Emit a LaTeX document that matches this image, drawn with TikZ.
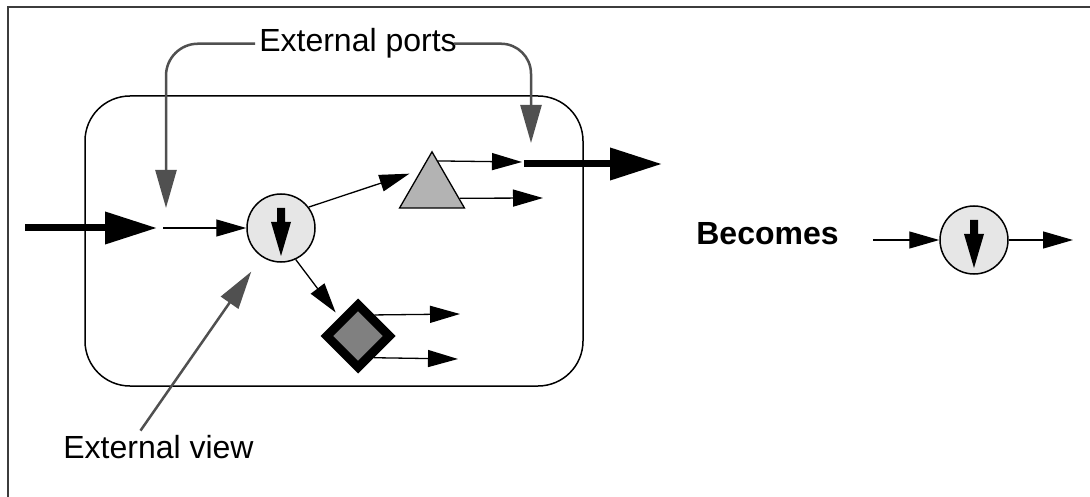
\documentclass[tikz,border=0pt]{standalone}
\usepackage{fontspec}
\setmainfont{Liberation Sans}
\usetikzlibrary{arrows.meta,shapes.geometric}
\definecolor{valvefill}{RGB}{230,230,230}
\definecolor{trifill}{RGB}{179,179,179}
\definecolor{diafill}{RGB}{128,128,128}
\definecolor{calloutcol}{RGB}{80,80,80}
\definecolor{framecol}{RGB}{60,60,60}

\begin{document}
\begin{tikzpicture}[
  x=1pt, y=-1pt,
  font=\fontsize{32}{38}\selectfont,
  frame/.style={draw=framecol, line width=2pt},
  block/.style={
    draw, line width=1.5pt, rounded corners=45pt,
    minimum width=498pt, minimum height=290pt, inner sep=0pt
  },
  valve/.style={
    circle, draw, line width=1.5pt, fill=valvefill,
    minimum size=68pt, inner sep=0pt,
    path picture={
      \fill[black] (path picture bounding box.center) ++(-4,-20) -- ++(8,0)
        -- ++(0,14) -- ++(6,0) -- ++(-10,34) -- ++(-10,-34) -- ++(6,0) -- cycle;
    }
  },
  tri/.style={
    regular polygon, regular polygon sides=3, draw, line width=1.3pt,
    fill=trifill, minimum size=75pt, inner sep=0pt
  },
  dia/.style={
    diamond, draw, line width=9pt, fill=diafill,
    minimum width=66pt, minimum height=66pt, inner sep=0pt
  },
  txt/.style={anchor=base, inner sep=4pt},
  arr/.style={line width=1.3pt, -{Triangle[length=30pt,width=17pt]}},
  bigarr/.style={line width=7pt, -{Triangle[length=52pt,width=31pt]}},
  callout/.style={
    draw=calloutcol, line width=2.5pt,
    -{Triangle[length=38pt,width=21pt]}
  },
]
\useasboundingbox (0,0) rectangle (1090,497);
\draw[frame] (8,497) -- (8,7) -- (1090,7);

% ---- Nodes ----
\node[block] (box) at (334,241) {};

\node[valve] (valve)    at (281,228)   {};
\node[tri]   (tri)      at (432,189.3) {};
\node[dia]   (dia)      at (358,336)   {};
\node[valve] (newvalve) at (974,240)   {};

\node[txt] (ports)   at (358,52)    {External ports};
\node[txt] (view)    at (158.5,458) {External view};
\node[txt, font=\fontsize{32}{38}\selectfont\bfseries] (becomes) at (767.5,245) {Becomes};

% free ends of the connectors
\coordinate (bigin)     at (25,228);
\coordinate (bigintip)  at (157,228);
\coordinate (inport)    at (163,228);
\coordinate (bigout)    at (524,164);
\coordinate (bigouttip) at (662,164);
\coordinate (triout1)   at (522,162);
\coordinate (triout2)   at (543,198);
\coordinate (diaout1)   at (460,314);
\coordinate (diaout2)   at (458,359);
\coordinate (portin)    at (166,208);
\coordinate (portout)   at (531,143);
\coordinate (newin)     at (873,240);
\coordinate (newout)    at (1073,240);

% ---- Edges ----
\draw[bigarr] (bigin) -- (bigintip);
\draw[bigarr] (bigout) -- (bigouttip);

\foreach \p/\c in {inport/valve, tri.78/triout1, tri.-18/triout2,
                   dia.52/diaout1, dia.-54/diaout2,
                   newin/newvalve, newvalve/newout}
  \draw[arr] (\p) -- (\c);

\draw[arr, shorten >=12pt] (valve.37) -- (tri.120);
\draw[arr, shorten >=6pt] (valve.-65) -- (dia.north west);

% ---- Callouts ----
\draw[callout, rounded corners=32pt] (ports.west) -| (portin);
\draw[callout, rounded corners=30pt] ([xshift=-7pt]ports.east) -| (portout);
\draw[callout, shorten >=18pt] ([xshift=-18pt]view.north) -- (valve.236);

\end{tikzpicture}
\end{document}
